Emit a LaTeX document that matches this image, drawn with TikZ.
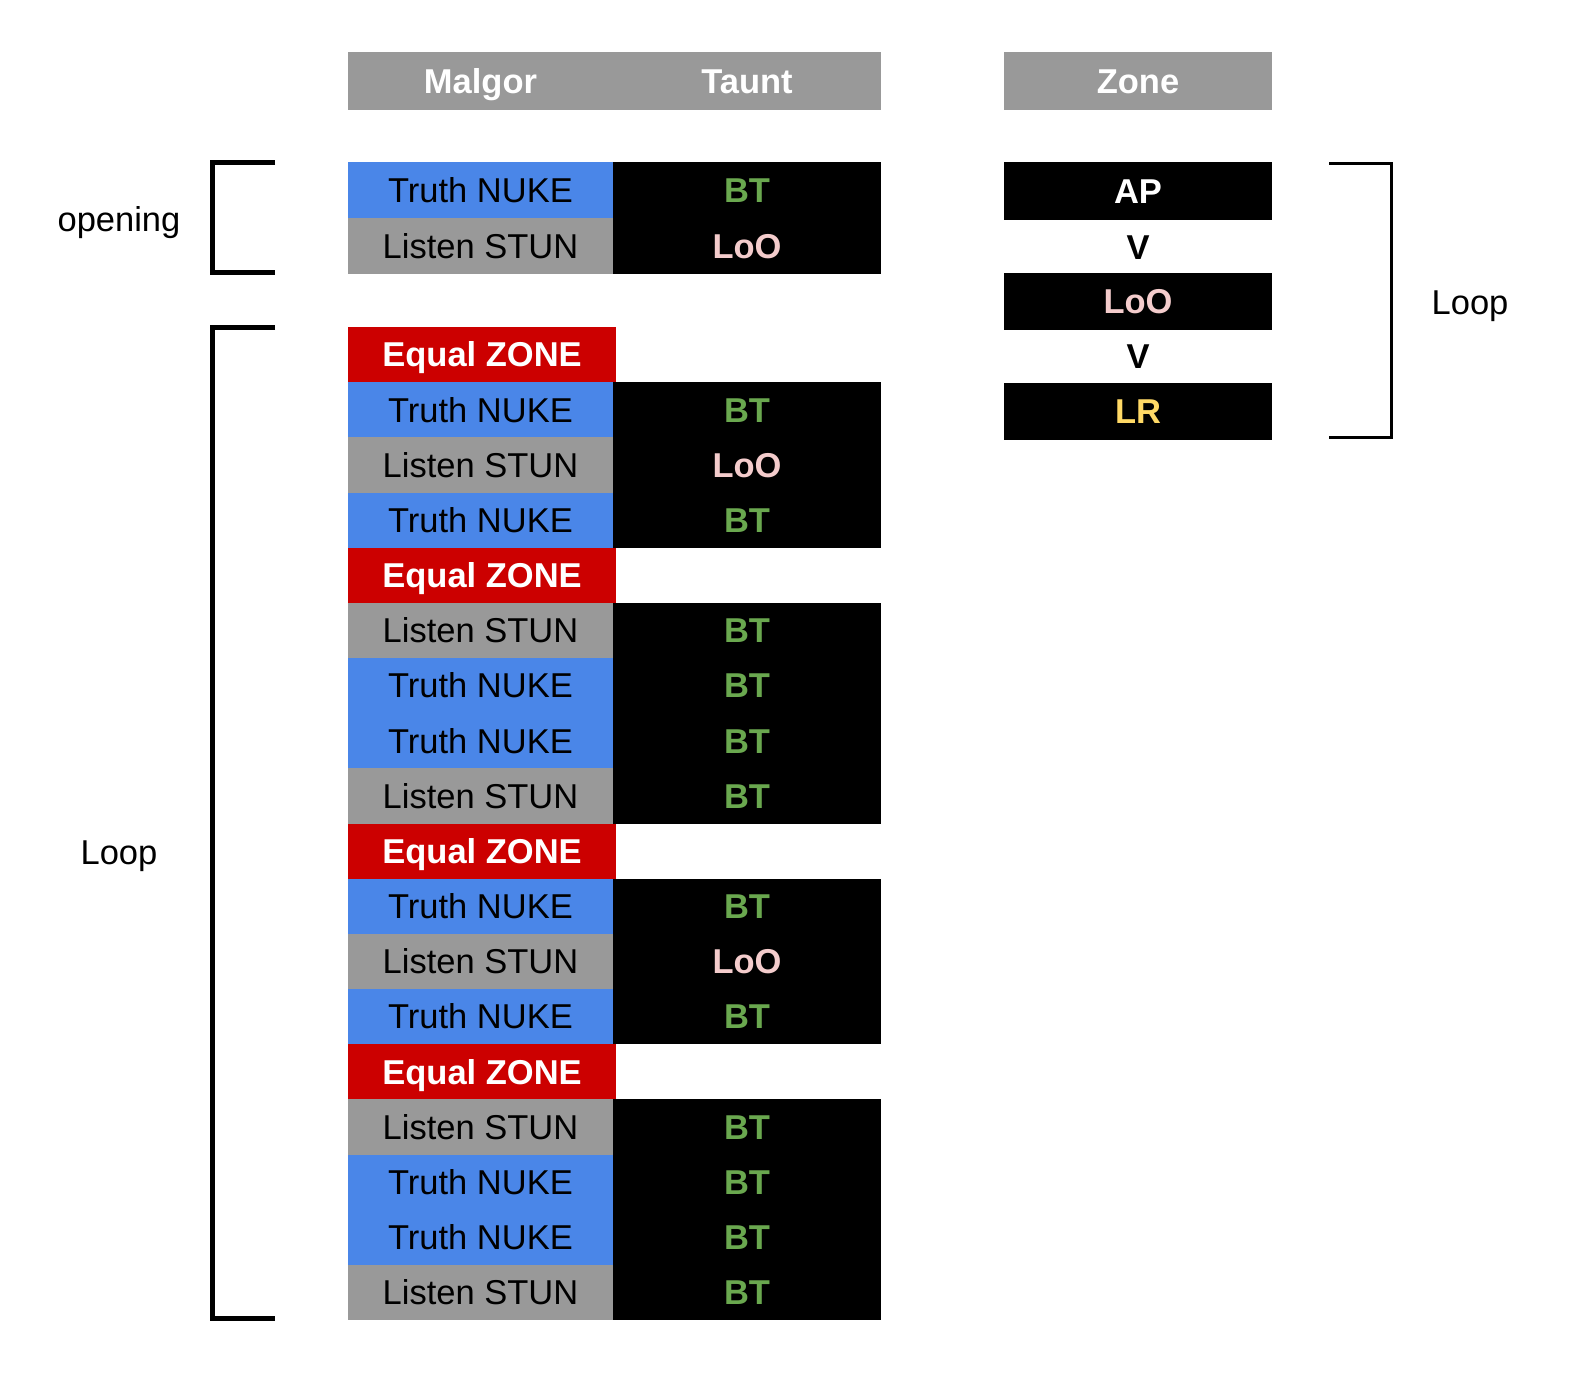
\documentclass[tikz,border=0pt]{standalone}
\usepackage{fontspec}
\setmainfont{Liberation Sans}
\definecolor{cblue}{HTML}{4A86E8}
\definecolor{cgrey}{HTML}{999999}
\definecolor{cred}{HTML}{CC0000}
\definecolor{cgreen}{HTML}{6AA84F}
\definecolor{cpink}{HTML}{F4CCCC}
\definecolor{cyellow}{HTML}{FFD966}
\begin{document}
\begin{tikzpicture}[x=1pt,y=-1pt,
  txt/.style={inner sep=0pt, outer sep=0pt, text height=24.7pt, text depth=0pt, font=\fontsize{34.5}{40}\selectfont},
  btxt/.style={txt, font=\fontsize{34.5}{40}\selectfont\bfseries},
  cell/.style={rectangle, txt, anchor=north west, minimum height=55.17pt},
  lc/.style={cell, minimum width=265pt},
  rc/.style={cell, minimum width=268pt, fill=black, font=\fontsize{34.5}{40}\selectfont\bfseries},
  tn/.style={lc, fill=cblue, text=black},
  ls/.style={lc, fill=cgrey, text=black},
  ez/.style={lc, minimum width=268pt, fill=cred, text=white, font=\fontsize{34.5}{40}\selectfont\bfseries},
  bt/.style={rc, text=cgreen},
  loo/.style={rc, text=cpink},
  hdr/.style={rectangle, fill=cgrey, inner sep=0pt, anchor=north west, minimum height=58pt},
  zbox/.style={rectangle, fill=black, inner sep=0pt, btxt, anchor=north west, minimum width=268pt, minimum height=56.5pt},
  brk/.style={line width=5pt, line join=miter},
  brkr/.style={line width=3pt, line join=miter}
]
\useasboundingbox (0,0) rectangle (1579,1390);

% headers
\node[hdr, minimum width=533pt] (hmt) at (348,52) {};
\node[btxt, text=white] (hmalgor) at (480.5,81) {Malgor};
\node[btxt, text=white] (htaunt) at (747,81) {Taunt};
\node[hdr, minimum width=268pt, btxt, text=white] (hzone) at (1004,52) {Zone};

% opening
\node[tn, minimum height=56pt] (oL1) at (348,162) {Truth NUKE};
\node[bt, minimum height=56pt] (oR1) at (613,162) {BT};
\node[ls, minimum height=56pt] (oL2) at (348,218) {Listen STUN};
\node[loo, minimum height=56pt] (oR2) at (613,218) {LoO};

% loop
\foreach \i in {0,4,9,13}{
  \pgfmathsetmacro\yy{327+55.17*\i}
  \node[ez] (L\i) at (348,\yy) {Equal ZONE};
}
\foreach \i/\ls/\lt/\rs/\rt in {
  1/tn/Truth NUKE/bt/BT, 2/ls/Listen STUN/loo/LoO, 3/tn/Truth NUKE/bt/BT,
  5/ls/Listen STUN/bt/BT, 6/tn/Truth NUKE/bt/BT, 7/tn/Truth NUKE/bt/BT, 8/ls/Listen STUN/bt/BT,
  10/tn/Truth NUKE/bt/BT, 11/ls/Listen STUN/loo/LoO, 12/tn/Truth NUKE/bt/BT,
  14/ls/Listen STUN/bt/BT, 15/tn/Truth NUKE/bt/BT, 16/tn/Truth NUKE/bt/BT, 17/ls/Listen STUN/bt/BT}{
  \pgfmathsetmacro\yy{327+55.17*\i}
  \node[\ls] (L\i) at (348,\yy) {\lt};
  \node[\rs] (R\i) at (613,\yy) {\rt};
}

% zone column
\node[zbox, minimum height=58pt, text=white] (zap) at (1004,162) {AP};
\node[btxt, text=black] (zv1) at (1138,247) {V};
\node[zbox, text=cpink] (zloo) at (1004,273) {LoO};
\node[btxt, text=black] (zv2) at (1138,356) {V};
\node[zbox, text=cyellow] (zlr) at (1004,383) {LR};

% brackets
\coordinate (ob1) at (275,162.5);
\coordinate (ob2) at (212.5,272.5);
\coordinate (ob3) at (275,272.5);
\draw[brk] (ob1) -| (ob2) -- (ob3);
\coordinate (lb1) at (275,327.5);
\coordinate (lb2) at (212.5,1318.5);
\coordinate (lb3) at (275,1318.5);
\draw[brk] (lb1) -| (lb2) -- (lb3);
\coordinate (rb1) at (1329,163.5);
\coordinate (rb2) at (1391,437.5);
\coordinate (rb3) at (1329,437.5);
\draw[brkr] (rb1) -| (rb2) -- (rb3);

% labels
\node[txt] (lopen) at (119,219) {opening};
\node[txt] (lloop) at (119,852) {Loop};
\node[txt] (rloop) at (1470,302) {Loop};
\end{tikzpicture}
\end{document}
